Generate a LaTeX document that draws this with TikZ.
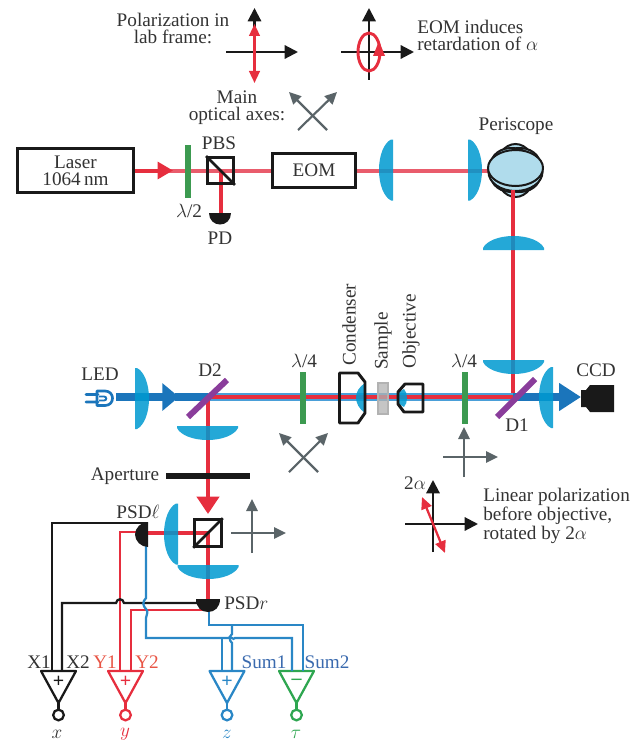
\documentclass[tikz,border=0pt]{standalone}
\usepackage{amsmath}
\usepackage{fontspec}
\setmainfont{Liberation Serif}
\usetikzlibrary{arrows.meta}
\definecolor{laserred}{HTML}{E62E3E}
\definecolor{paleRed}{HTML}{E95C6C}
\definecolor{beamblue}{HTML}{1B75BB}
\definecolor{paleBlue}{HTML}{4A9FD8}
\definecolor{lensblue}{HTML}{009AD0}
\definecolor{scopeblue}{HTML}{B0DCEC}
\definecolor{plategreen}{HTML}{3C9A50}
\definecolor{mirrorpurple}{HTML}{8A3D9B}
\definecolor{axisgray}{HTML}{5A6468}
\definecolor{wireblue}{HTML}{2A87C6}
\definecolor{wiregreen}{HTML}{2EA650}
\definecolor{sumblue}{HTML}{3A6AAE}
\definecolor{yred}{HTML}{E85545}
\definecolor{inkgray}{HTML}{333333}
\tikzset{
  txt/.style={text=inkgray, inner sep=0pt, align=center, font=\fontsize{14.4}{12.75}\selectfont},
  txtleft/.style={txt, align=left, anchor=west},
  vtxt/.style={txt, rotate=90, anchor=west},
  boxnode/.style={draw=black!90, line width=2.2pt, fill=white, inner sep=0pt, txt},
  redbeam/.style={laserred, line width=3pt},
  paleBeam/.style={paleRed, line width=3pt},
  blueBeam/.style={beamblue, line width=6.5pt},
  wire/.style={line width=1.7pt},
  labframe/.style={black!90, line width=1.6pt, -{Triangle[length=10pt,width=10pt]}},
  axisarrow/.style={axisgray, line width=1.6pt, -{Triangle[length=9pt,width=8.5pt]}},
  polarrow/.style={laserred, line width=1.7pt, {Triangle[length=9pt,width=8pt]}-{Triangle[length=9pt,width=8pt]}},
  plate/.style={plategreen, line width=4.5pt},
  mirrorline/.style={mirrorpurple, line width=4.5pt},
  optic/.style={draw=black!90, line width=2.2pt, line join=round},
  scopedisc/.style={draw=black!90, fill=scopeblue, line width=1.5pt},
  lens/.style={fill=lensblue, fill opacity=.86}
}
\def\drawLens#1#2#3{
\begin{scope}[shift={(#1,#2)},rotate=#3]
\path[lens] (0,-30.5) -- (2,-30.5) .. controls (9,-27) and (14,-15) .. (14,0)
  .. controls (14,15) and (9,27) .. (2,30.5) -- (0,30.5) -- cycle;
\end{scope}
}
\def\drawAmp#1#2#3#4{
\draw[#3, wire, line join=round] (#2-17.5,671) coordinate (#1top) -- (#2+17.5,671) -- (#2,703) -- cycle;
\node[circle, draw=#3, line width=1.7pt, inner sep=0pt, minimum size=8pt] (#1out) at (#2,715) {};
\draw[#3, wire] (#2,703) -- (#1out);
\node[text=#3, inner sep=0pt, font=\fontsize{15}{15}\selectfont\bfseries] (#1sign) at (#2,681.5) {#4};
}

\begin{document}
\begin{tikzpicture}[x=.75pt,y=-.75pt]
	\useasboundingbox (0,0) rectangle (640,742);
	% polarization in the lab frame
	\node[txt] (labtext) at (173,28) {Polarization in\\lab frame:};
	\draw[labframe] (226,52) -- (298,52);
	\draw[labframe] (254.5,52) -- (254.5,8);
	\draw[polarrow] (254.5,24) -- (254.5,83);
	\draw[labframe] (341,52) -- (414,52);
	\draw[labframe] (369,80) -- (369,8);
	\draw[laserred, line width=2.2pt] (369,52) ellipse (11 and 19);
	\fill[laserred] (379,41) -- (385,56) -- (373,56) -- cycle;
	\node[txtleft] (eomtext) at (417,35) {EOM induces\\retardation of $\alpha$};
	\node[txt] (axestext) at (237,108) {Main\\optical axes:};
	\draw[axisarrow] (298,130) -- (337,92);
	\draw[axisarrow] (327,130) -- (289,92);
	% upper beam line
	\node[boxnode, minimum width=87.5pt, minimum height=33.5pt] (laser) at (75.5,170.5) {Laser\\1064\,nm};
	\node[boxnode, minimum width=62.5pt, minimum height=25pt] (eom) at (314,170.5) {EOM};
	\coordinate (pbsA) at (220.5,170.5);
	\coordinate (scopeC) at (513,170.5);
	\coordinate (D1) at (513,397);
	\coordinate (D2) at (208,397);
	\coordinate (pbsB) at (208,533);
	\draw[paleBeam] (laser.east) -- (eom.west);
	\draw[paleBeam] (eom.east) -- (scopeC);
	\draw[redbeam, -{Triangle[length=11.5pt,width=12.5pt]}] (laser.east) -- (173,170.5);
	\draw[redbeam] (pbsA) -- (220.5,213);
	\draw[plate] (188,145) -- (188,198);
	\node[txt] (halfwave) at (189,211) {$\lambda$/2};
	\node[txt] (pbstext) at (219,143) {PBS};
	\node[draw=black!90, line width=2.2pt, minimum size=19.5pt, inner sep=0pt] (pbsAbox) at (pbsA) {};
	\draw[black!90, line width=2pt] (pbsAbox.north west) -- (pbsAbox.south east);
	\fill[black!90] (209,213) -- (231,213) .. controls (231,220) and (226,224.5) .. (220,224.5) .. controls (214,224.5) and (209,220) .. (209,213) -- cycle;
	\node[txt] (pdtext) at (220,238) {PD};
	% periscope
	\draw[scopedisc] (515.5,170.5) ellipse (20 and 26.5);
	\draw[scopedisc, rotate around={25:(515.5,170)}] (515.5,170) ellipse (26 and 21);
	\draw[scopedisc, rotate around={-25:(515.5,170)}] (515.5,170) ellipse (26 and 21);
	\draw[scopedisc] (515.5,172) ellipse (27 and 19);
	\draw[scopedisc] (515.5,168) ellipse (27.5 and 18);
	\node[txt] (periscope) at (516,126) {Periscope};
	\draw[redbeam] (513,190) -- (D1);
	\drawLens{393}{170}{180}
	\drawLens{468}{170}{0}
	\drawLens{513.5}{250}{90}
	\drawLens{513.5}{360}{-90}
	% lower beam line
	\coordinate (led) at (116,397);
	\coordinate (ccd) at (581,397);
	\draw[blueBeam, -{Triangle[length=12.5pt,width=20pt,sep=0pt]}] (led) -- (179,397);
	\draw[blueBeam] (175,397) -- (D2);
	\draw[paleBlue, line width=6.5pt] (D2) -- (D1);
	\draw[redbeam, line width=3.3pt] (D2) -- (D1);
	\draw[blueBeam, -{Triangle[length=16.5pt,width=20pt]}] (D1) -- (ccd);
	\draw[redbeam, -{Triangle[length=13pt,width=16.5pt]}] (D2) -- (pbsB |- 0,514);
	\draw[redbeam] (pbsB) -- (208,600);
	\draw[redbeam] (pbsB) -- (148,533);
	\drawLens{135}{398.5}{0}
	\drawLens{553}{397.5}{180}
	\drawLens{207.5}{426}{-90}
	\drawLens{178}{534}{180}
	\drawLens{208}{565}{-90}
	\draw[beamblue, line width=2pt, line cap=round, line join=round] (86,394.5) -- (98,394.5) (86,402) -- (98,402) (97,391) -- (105,391) .. controls (115,391) and (115,405.5) .. (105,405.5) -- (97,405.5) -- cycle;
	\draw[beamblue, line width=1.4pt] (99,396.5) -- (104,396.5) .. controls (107,396.5) and (107,400.5) .. (104,400.5) -- (99,400.5);
	\node[txt] (ledtext) at (100,374) {LED};
	\draw[mirrorline] (188,417) -- (227,380);
	\node[txt] (d2text) at (210,370) {D2};
	\draw[mirrorline] (497,417) -- (535,379);
	\node[txt] (d1text) at (517,425) {D1};
	\draw[plate] (303,372) -- (303,424);
	\node[txt] (quarterA) at (304,361) {$\lambda$/4};
	\draw[plate] (464.5,372) -- (464.5,424);
	\node[txt] (quarterB) at (464,361) {$\lambda$/4};
	% condenser, sample and objective
	\path[lens] (365,383) .. controls (359,387) and (356,392) .. (356,397.5) .. controls (356,403) and (359,409) .. (365,413) -- cycle;
	\draw[optic] (339.5,373) -- (358,373) -- (365,382) -- (365,413) -- (358,423) -- (339.5,423) -- cycle;
	\node[vtxt] (condenser) at (349,366) {Condenser};
	\filldraw[draw=gray!60, fill=gray!60, fill opacity=.75, line width=1pt] (378,383) rectangle (388,414);
	\node[vtxt] (sample) at (383,370) {Sample};
	\path[lens] (404,389) .. controls (408,393) and (408,403) .. (404,407) -- (399,404) -- (399,392) -- cycle;
	\draw[optic] (423,384) -- (405,384) -- (398,392) -- (398,404) -- (404,412) -- (423,412) -- cycle;
	\node[vtxt] (objective) at (411,369) {Objective};
	% camera
	\fill[black!90] (581,390) -- (586,390) -- (590,385) -- (614,385) -- (614,412) -- (590,412) -- (586,407) -- (581,407) -- cycle;
	\node[txt] (ccdtext) at (596,370) {CCD};
	% axes below the beam
	\draw[axisarrow] (318,472) -- (279,433);
	\draw[axisarrow] (289,472) -- (328,433);
	\draw[axisarrow] (464,477) -- (464,427);
	\draw[axisarrow] (443,457) -- (498,457);
	\node[txt] (twoalpha) at (415,483) {2$\alpha$};
	\draw[labframe] (405,524) -- (478,524);
	\draw[labframe] (433,552) -- (433,480);
	\draw[polarrow] (422,497) -- (445,553);
	\node[txtleft] (lineartext) at (483,516) {Linear polarization\\before objective,\\rotated by 2$\alpha$};
	\draw[black!90, line width=4.5pt] (166,476) -- (250,476);
	\node[txt] (aperture) at (125,476) {Aperture};
	\node[draw=black!90, line width=2.2pt, minimum size=20pt, inner sep=0pt] (pbsBbox) at (pbsB) {};
	\draw[black!90, line width=2pt] (pbsBbox.south west) -- (pbsBbox.north east);
	\draw[axisarrow] (231,533) -- (286,533);
	\draw[axisarrow] (252,553) -- (252,499);
	% position sensitive detectors
	\coordinate (psdL) at (148,534);
	\coordinate (psdR) at (208,599);
	\drawAmp{ampX}{58.5}{black!90}{+}
	\drawAmp{ampY}{125.5}{laserred}{+}
	\drawAmp{ampZ}{227}{wireblue}{+}
	\drawAmp{ampT}{296.5}{wiregreen}{--}
	\draw[wire, black!90] (psdL |- 0,523) -- (52,523) -- (52,671);
	\draw[wire, laserred] (psdL |- 0,532) -- (120,532) -- (120,671);
	\draw[wire, black!90] (psdR |- 0,603) -- (124,603) .. controls (123,598) and (117,598) .. (116,603) -- (62,603) -- (62,671);
	\draw[wire, laserred] (psdR |- 0,610) -- (131,610) -- (131,671);
	\draw[wire, wireblue] (146,545) -- (146,598) .. controls (142,602) and (143,606) .. (146,609) .. controls (149,612) and (146,615) .. (146,618) -- (146,638) -- (228,638) .. controls (231,635) and (233,641) .. (235,638) -- (292,638) -- (292,671);
	\draw[wire, wireblue] (209,610) -- (209,625) -- (303,625) -- (303,671);
	\draw[wire, wireblue] (232,625) -- (232,634) .. controls (229,637) and (229,640) .. (232,643) -- (232,671);
	\draw[wire, wireblue] (222,638) -- (222,671);
	\fill[black!90] (psdL |- 0,522) -- (psdL |- 0,547) .. controls (141,547) and (135,541) .. (135,534.5) .. controls (135,528) and (141,522) .. (148,522) -- cycle;
	\fill[black!90] (196,599) -- (220,599) .. controls (220,607) and (215,612) .. (208,612) .. controls (201,612) and (196,607) .. (196,599) -- cycle;
	\node[txt] (psdLtext) at (138,512) {PSD$\ell$};
	\node[txtleft] (psdRtext) at (224,603) {PSD$r$};
	% amplifier labels
	\node[txt] (x1text) at (39,662) {X1};
	\node[txt] (x2text) at (78,662) {X2};
	\node[txt, text=yred] (y1text) at (105,662) {Y1};
	\node[txt, text=yred] (y2text) at (147,662) {Y2};
	\node[txt, text=sumblue] (sumAtext) at (264,662) {Sum1};
	\node[txt, text=sumblue] (sumBtext) at (327,662) {Sum2};
	\node[txt] (xtext) at (57,734) {$x$};
	\node[txt, text=laserred] (ytext) at (125,734) {$y$};
	\node[txt, text=wireblue] (ztext) at (227,734) {$z$};
	\node[txt, text=wiregreen] (tautext) at (296,734) {$\tau$};
\end{tikzpicture}
\end{document}
